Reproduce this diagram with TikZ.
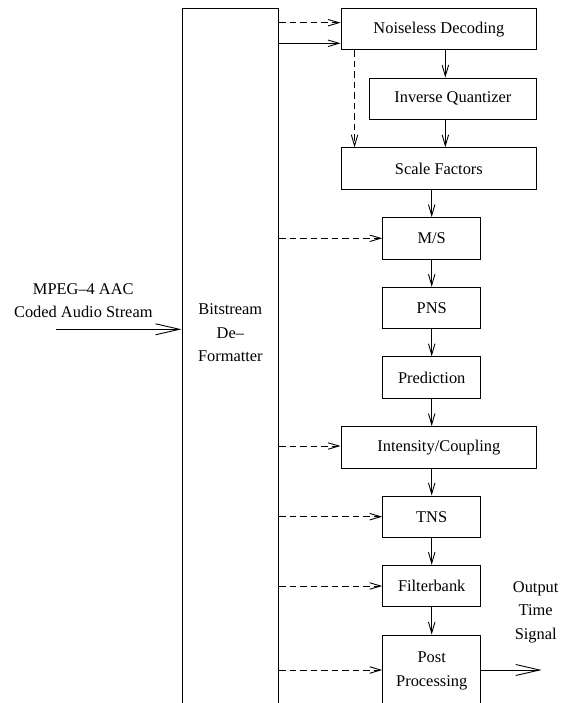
\documentclass[tikz,border=0pt]{standalone}
\usepackage{fontspec}
\setmainfont{Liberation Serif}
\usetikzlibrary{arrows.meta}

\tikzset{
    stage/.style={draw, line width=0.9pt, minimum height=41.5pt, inner sep=0pt},
    flow/.style={line width=0.9pt, -{Straight Barb[length=11pt, width=6.5pt]}},
    ctrl/.style={flow, dash pattern=on 6.5pt off 4pt},
    bigflow/.style={line width=0.9pt, -{Straight Barb[length=24pt, width=11pt]}}
}

\begin{document}
\begin{tikzpicture}[x=1pt, y=-1pt, font=\fontsize{16.4}{23.5}\selectfont]
    \useasboundingbox (0, 0) rectangle (566, 703);
    \clip (0, 0) rectangle (566, 703);

    % deformatter and decoding chain
    \node[stage, minimum width=96.7pt, minimum height=720pt] (bs) at (230.35, 368) {};
    \node[align=center] (bslabel) at (230.35, 333) {Bitstream\\De--\\Formatter};
    \node[stage, minimum width=195.7pt] (nd) at (438.85, 29.2) {Noiseless Decoding};
    \node[stage, minimum width=167.7pt] (iq) at (452.85, 98.8) {Inverse Quantizer};
    \node[stage, minimum width=195.7pt] (sf) at (438.85, 168.5) {Scale Factors};
    \node[stage, minimum width=98pt] (ms) at (431.7, 238.3) {M/S};
    \node[stage, minimum width=98pt] (pns) at (431.7, 308) {PNS};
    \node[stage, minimum width=98pt] (pred) at (431.7, 377.5) {Prediction};
    \node[stage, minimum width=195.7pt] (ic) at (438.85, 447.3) {Intensity/Coupling};
    \node[stage, minimum width=98pt] (tns) at (431.7, 516.7) {TNS};
    \node[stage, minimum width=98pt] (fb) at (431.7, 586) {Filterbank};
    \node[stage, minimum width=98pt, minimum height=72pt, align=center] (post) at (431.7, 671) {Post\\Processing};

    % input and output
    \coordinate (in) at (56, 329.3);
    \node[align=center] (inlabel) at (83.3, 300.8) {MPEG--4 AAC\\Coded Audio Stream};
    \draw[bigflow] (in) -- (in -| bs.west);
    \coordinate (out) at (541.7, 670);
    \node[align=center] (outlabel) at (535.7, 612) {Output\\Time\\Signal};
    \draw[bigflow] (out -| post.east) -- (out);

    % main signal path
    \draw[flow] ([yshift=-14.1pt]nd.west -| bs.east) -- ([yshift=-14.1pt]nd.west);
    \draw[flow] ([xshift=6.5pt]nd.south) -- ([xshift=6.5pt]nd.south |- iq.north);
    \draw[flow] ([xshift=-7.5pt]iq.south) -- ([xshift=-7.5pt]iq.south |- sf.north);
    \draw[flow] (ms.north |- sf.south) -- (ms.north);
    \draw[flow] (ms) -- (pns);
    \draw[flow] (pns) -- (pred);
    \draw[flow] (pred.south) -- (pred.south |- ic.north);
    \draw[flow] (tns.north |- ic.south) -- (tns.north);
    \draw[flow] (tns) -- (fb);
    \draw[flow] (fb) -- (post);

    % side information
    \draw[ctrl] ([yshift=6.5pt]nd.west -| bs.east) -- ([yshift=6.5pt]nd.west);
    \draw[ctrl] ([xshift=14pt]nd.south west) -- ([xshift=14pt]nd.south west |- sf.north);
    \draw[ctrl] (ms.west -| bs.east) -- (ms.west);
    \draw[ctrl] ([yshift=1.3pt]ic.west -| bs.east) -- ([yshift=1.3pt]ic.west);
    \draw[ctrl] (tns.west -| bs.east) -- (tns.west);
    \draw[ctrl] (fb.west -| bs.east) -- (fb.west);
    \draw[ctrl] (out -| bs.east) -- (out -| post.west);
\end{tikzpicture}
\end{document}
